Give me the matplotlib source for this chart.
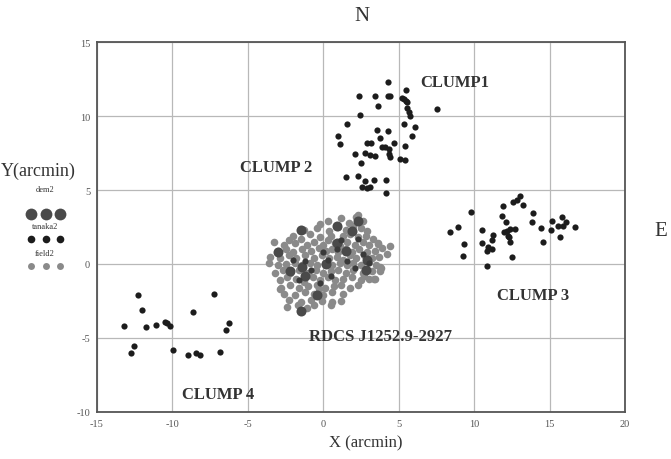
import matplotlib
matplotlib.use("Agg")
import matplotlib.pyplot as plt
from matplotlib.lines import Line2D

plt.rcParams['font.family'] = ['Liberation Serif', 'DejaVu Serif']
plt.rcParams['axes.unicode_minus'] = False

# ---------------- data (arcmin) ----------------
clump12_x = [4.26, 2.34, 3.44, 4.26, 4.44, 5.50, 5.21, 5.32, 5.50, 5.58, 3.62, 5.54, 5.65, 5.76,
             2.45, 7.53, 1.57, 5.36, 6.11, 3.55, 4.26, 0.95, 1.13, 3.77, 5.87, 2.89, 3.16, 4.66,
             3.89, 4.11, 4.33, 5.43, 2.12, 2.78, 3.11, 3.44, 4.33, 4.44, 5.10, 5.43, 2.52, 1.52,
             2.27, 2.78, 3.38, 4.17, 2.56, 2.89, 3.11, 4.17]
clump12_y = [12.32, 11.37, 11.37, 11.37, 11.33, 11.76, 11.19, 11.15, 11.04, 10.92, 10.65, 10.52,
             10.25, 9.98, 10.09, 10.47, 9.46, 9.46, 9.23, 9.07, 8.99, 8.67, 8.11, 8.49, 8.67, 8.18,
             8.18, 8.18, 7.88, 7.88, 7.77, 7.99, 7.43, 7.50, 7.36, 7.32, 7.43, 7.21, 7.09, 7.05,
             6.80, 5.86, 5.97, 5.63, 5.68, 5.70, 5.23, 5.11, 5.18, 4.78]

clump3_x = [9.78, 11.94, 12.60, 13.05, 12.83, 13.27, 11.88, 12.12, 13.93, 13.82, 15.14, 15.81,
            16.09, 15.91, 15.58, 16.69, 15.08, 14.44, 15.70, 14.59, 8.41, 8.96, 10.51, 11.24,
            11.17, 10.51, 9.34, 9.23, 10.95, 11.17, 10.84, 12.17, 12.38, 12.72, 12.27, 12.38,
            12.50, 10.88, 11.99, 12.32]
clump3_y = [3.54, 3.90, 4.21, 4.57, 4.35, 3.99, 3.22, 2.82, 3.45, 2.86, 2.93, 3.15, 2.82, 2.59,
            2.59, 2.48, 2.32, 2.43, 1.80, 1.51, 2.18, 2.52, 2.32, 1.96, 1.64, 1.42, 1.35, 0.56,
            1.13, 1.01, 0.90, 2.25, 2.36, 2.36, 1.91, 1.47, 0.49, -0.16, 2.18, 1.80]

clump4_x = [-12.30, -12.01, -13.18, -11.74, -11.06, -10.51, -10.35, -10.18, -8.65, -7.22,
            -6.27, -6.42, -12.52, -12.78, -9.95, -8.96, -8.41, -8.15, -6.82]
clump4_y = [-2.07, -3.09, -4.17, -4.24, -4.12, -3.90, -3.99, -4.17, -3.27, -2.03, -3.99,
            -4.46, -5.52, -6.01, -5.81, -6.13, -6.04, -6.13, -5.93]

core_tanaka_x = [-2.0, -1.2, -0.8, 0.3, 0.9, 1.6, 2.1, 2.6, -0.2, 0.5, 1.2, 2.3, -1.6, 0.0, 3.0]
core_tanaka_y = [0.3, 0.2, -0.4, 0.3, 1.0, 0.2, -0.3, 0.7, -1.3, -0.8, 1.6, 1.7, -1.1, 0.8, 0.1]

field2_x = [0.3, 1.2, 1.7, 2.2, 2.6, -0.2, 0.9,
            -1.3, -0.4, 0.4, 1.0, 1.5, 2.0, 2.5, 2.9, -2.3,
            -2.0, -0.9, -0.2, 0.5, 1.3, 1.8, 2.3, 2.8, 3.3, -1.5,
            -3.3, -2.6, -1.9, -1.1, -0.6, 0.0, 0.3, 0.8, 1.1, 1.6, 2.1, 2.6, 3.0, 3.6, 4.4, 3.9,
            -3.0, -2.5, -2.0, -1.4, -0.8, -0.3, 0.2, 0.6, 1.0, 1.5, 1.9, 2.4, 2.9, 3.4,
            -3.5, -2.9, -2.3, -1.8, -1.2, -0.6, -0.1, 0.4, 0.9, 1.3, 1.8, 2.2, 2.7, 3.2, 3.7, 4.2,
            -3.6, -3.0, -2.5, -1.9, -1.4, -0.9, -0.4, 0.1, 0.6, 1.1, 1.6, 2.0, 2.5, 3.0, 3.5, 3.8,
            -3.2, -2.7, -2.2, -1.6, -1.0, -0.5, 0.0, 0.5, 1.0, 1.5, 2.0, 2.6, 3.2,
            -2.9, -2.4, -1.8, -1.3, -0.7, -0.2, 0.3, 0.8, 1.3, 1.9, 2.5, 3.0, 3.4,
            -2.8, -2.2, -1.6, -1.0, -0.4, 0.1, 0.7, 1.2, 1.8, 2.3,
            -2.6, -1.9, -1.2, -0.6, 0.0, 0.6, 1.3, -0.3,
            -2.3, -1.5, -0.8, -0.1, 0.6, 1.2,
            -2.4, -1.7, -0.6, 0.5, -1.1,
            2.3, -2.85, 3.66, 3.77, 3.77, 3.33, 2.67]
field2_y = [2.9, 3.1, 2.8, 3.2, 2.9, 2.7, 2.6,
            2.3, 2.4, 2.2, 2.5, 2.3, 2.6, 2.4, 2.2, 1.6,
            1.9, 2.0, 1.8, 1.9, 1.9, 2.0, 1.8, 1.9, 1.7, 1.7,
            1.5, 1.3, 1.4, 1.3, 1.5, 1.3, 1.6, 1.4, 1.2, 1.5, 1.3, 1.5, 1.3, 1.4, 1.2, 1.1,
            0.9, 1.0, 0.8, 1.0, 0.9, 1.1, 0.9, 1.0, 0.8, 1.0, 0.8, 1.0, 0.8, 0.9,
            0.5, 0.4, 0.6, 0.4, 0.6, 0.4, 0.6, 0.4, 0.5, 0.3, 0.6, 0.4, 0.6, 0.4, 0.5, 0.7,
            0.1, -0.1, 0.0, 0.1, -0.1, 0.1, -0.1, 0.1, -0.1, 0.1, -0.1, 0.1, -0.1, 0.2, -0.1, -0.3,
            -0.6, -0.4, -0.6, -0.4, -0.6, -0.4, -0.6, -0.5, -0.4, -0.6, -0.4, -0.6, -0.5,
            -1.1, -0.9, -1.0, -1.2, -0.9, -1.1, -0.9, -1.1, -1.0, -0.9, -1.1, -1.0, -1.0,
            -1.6, -1.4, -1.6, -1.5, -1.4, -1.6, -1.5, -1.4, -1.6, -1.4,
            -2.0, -2.1, -1.9, -2.0, -2.1, -1.9, -2.0, -1.7,
            -2.4, -2.6, -2.4, -2.5, -2.6, -2.5,
            -2.9, -2.8, -2.8, -2.8, -3.0,
            3.3, -1.7, 1.35, -0.23, -0.47, -1.03, -0.81]

dem2_x = [-1.5, -1.5, -3.0, -1.4, 2.9, 2.3, 0.9, -0.4, -1.2, 0.2, 1.5, 2.8, -2.2, 0.9, 1.9]
dem2_y = [2.3, -3.15, 0.8, -0.2, 0.3, 2.9, 1.4, -2.1, -0.8, 0.0, 0.9, -0.4, -0.5, 2.6, 2.2]

xticks = [-15, -10, -5, 0, 5, 10, 15, 20]
yticks = [-10, -5, 0, 5, 10, 15]

clump_labels = ["CLUMP1", "CLUMP 2", "CLUMP 3", "CLUMP 4", "RDCS J1252.9-2927"]
clump_label_x = [6.4, -5.5, 11.5, -9.35, -0.95]
clump_label_y = [12.3, 6.55, -2.1, -8.8, -4.85]

# ---------------- figure ----------------
fig = plt.figure(figsize=(6.71, 4.60), dpi=100)
ax = fig.add_axes([0.1446, 0.1022, 0.7868, 0.8043])

black = '#1c1c1c'
grey = '#8a8a8a'
demc = '#4a4a4a'

ax.scatter(field2_x, field2_y, s=30, color=grey, linewidths=0, zorder=3)
ax.scatter(dem2_x, dem2_y, s=52, color=demc, linewidths=0, zorder=4)
ax.scatter(core_tanaka_x, core_tanaka_y, s=20, color='#3a3a3a', linewidths=0, zorder=5)
for cx, cy in [(clump12_x, clump12_y), (clump3_x, clump3_y), (clump4_x, clump4_y)]:
    ax.scatter(cx, cy, s=20, color=black, linewidths=0, zorder=5)

ax.set_xlim(-15, 20)
ax.set_ylim(-10, 15)
ax.set_xticks(xticks)
ax.set_yticks(yticks)
ax.grid(True, color='#b8b8b8', linewidth=0.9)
ax.set_axisbelow(True)
for sp in ax.spines.values():
    sp.set_color('#555555')
    sp.set_linewidth(1.3)
ax.tick_params(length=0, labelsize=7.5, colors='#555555', pad=5)

for t, x, y in zip(clump_labels, clump_label_x, clump_label_y):
    ax.text(x, y, t, fontsize=12, fontweight='bold', color='#333333',
            ha='left', va='center', zorder=6)

fig.text(0.540, 0.965, "N", fontsize=15, color='#333333', ha='center', va='center')
fig.text(0.984, 0.497, "E", fontsize=15, color='#333333', ha='center', va='center')
fig.text(0.545, 0.037, "X (arcmin)", fontsize=12, color='#333333', ha='center', va='center')
fig.text(0.001, 0.628, "Y(arcmin)", fontsize=13, color='#333333', ha='left', va='center')

# legend (Mathcad style: label above three markers)
leg_labels = ["dem2", "tanaka2", "field2"]
leg_sizes = [8.5, 5.5, 5.0]
leg_colors = [demc, black, grey]
leg_text_y = [0.587, 0.507, 0.448]
leg_mark_y = [0.533, 0.478, 0.419]
for lab, ms, col, ty, my in zip(leg_labels, leg_sizes, leg_colors, leg_text_y, leg_mark_y):
    fig.text(0.067, ty, lab, fontsize=6, color='#333333', ha='center', va='center')
    fig.add_artist(Line2D([0.046, 0.068, 0.090], [my, my, my], transform=fig.transFigure,
                          linestyle='none', marker='o', markersize=ms,
                          markerfacecolor=col, markeredgewidth=0))

fig.savefig("out.png", dpi=100)
